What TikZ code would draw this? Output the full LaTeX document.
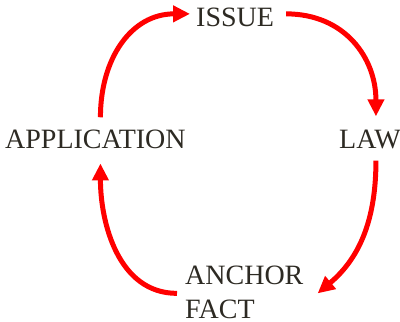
\documentclass[tikz,border=0pt]{standalone}
\usepackage{fontspec}
\setmainfont{Liberation Serif}
\usetikzlibrary{arrows.meta}
\definecolor{txt}{RGB}{45,42,35}
\definecolor{arr}{RGB}{255,0,0}
\tikzset{
  lbl/.style={inner sep=0pt, anchor=base west, text=txt, font=\fontsize{28}{34}\selectfont},
  cyc/.style={draw=arr, line width=5pt, -{Triangle[length=17pt,width=16pt]}}
}
\begin{document}
\begin{tikzpicture}[x=1pt,y=1pt]
\useasboundingbox (0,0) rectangle (400,-322);
\node[lbl] (issue) at (196,-26) {ISSUE};
\node[lbl] (app) at (5,-148) {APPLICATION};
\node[lbl] (law) at (339,-148) {LAW};
\node[lbl, align=left] (anchor) at (185,-318.5) {ANCHOR\\FACT};
\draw[cyc] ([xshift=5pt,yshift=12pt]app.north) to[out=90,in=180,looseness=1.1] ([xshift=-6pt,yshift=3pt]issue.west);
\draw[cyc] ([xshift=12pt,yshift=3pt]issue.east) to[out=0,in=90,looseness=1.1] ([xshift=6pt,yshift=13pt]law.north);
\draw[cyc] ([xshift=6pt,yshift=-12pt]law.south) to[out=-90,in=40] ([xshift=14pt,yshift=-1pt]anchor.east);
\draw[cyc] ([xshift=-8pt,yshift=-1pt]anchor.west) to[out=180,in=-90] ([xshift=5pt,yshift=-15pt]app.south);
\end{tikzpicture}
\end{document}
